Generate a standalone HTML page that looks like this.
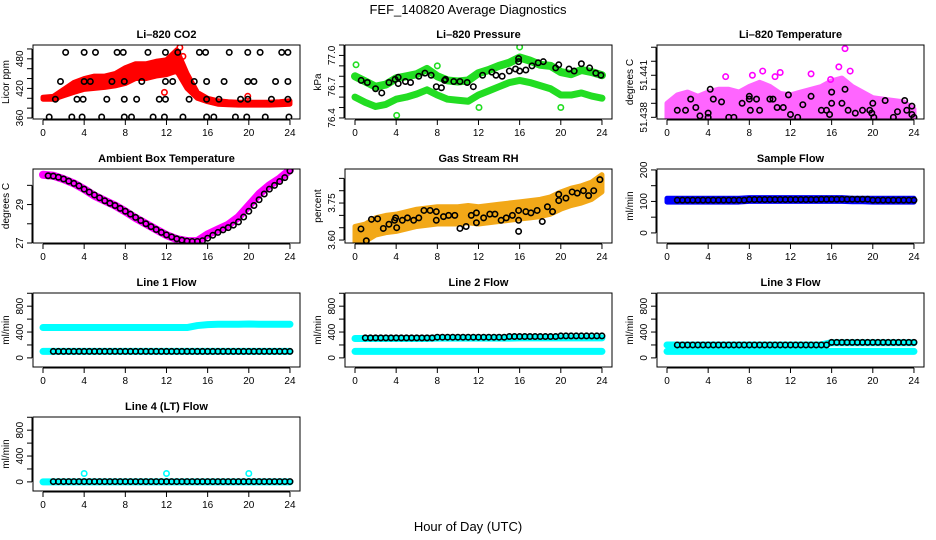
<!DOCTYPE html>
<html><head><meta charset="utf-8"><style>
html,body{margin:0;padding:0;background:#fff;}
svg{display:block;font-family:"Liberation Sans",sans-serif;}
</style></head><body>
<svg id="fig" width="936" height="540" viewBox="0 0 936 540">
<rect width="936" height="540" fill="#fff"/>
<text x="468" y="14" text-anchor="middle" font-size="13">FEF_140820  Average Diagnostics</text>
<text x="468" y="531" text-anchor="middle" font-size="13">Hour of Day (UTC)</text>
</svg>
<script>
const hours = [0,1,2,3,4,5,6,7,8,9,10,11,12,13,14,15,16,17,18,19,20,21,22,23,24];
const halfHours = [1,1.5,2,2.5,3,3.5,4,4.5,5,5.5,6,6.5,7,7.5,8,8.5,9,9.5,10,10.5,11,11.5,12,12.5,13,13.5,14,14.5,15,15.5,16,16.5,17,17.5,18,18.5,19,19.5,20,20.5,21,21.5,22,22.5,23,23.5,24];
const ambHalf = [0.5,1,1.5,2,2.5,3,3.5,4,4.5,5,5.5,6,6.5,7,7.5,8,8.5,9,9.5,10,10.5,11,11.5,12,12.5,13,13.5,14,14.5,15,15.5,16,16.5,17,17.5,18,18.5,19,19.5,20,20.5,21,21.5,22,22.5,23,23.5,24];
const xTicks = [0,4,8,12,16,20,24];

// CO2
const co2Lo = [398,398,405,412,418,420,422,425,430,440,440,445,448,455,420,400,393,388,387,386,386,386,386,387,388];
const co2Hi = [402,404,418,432,440,445,445,450,462,470,470,475,478,498,450,412,400,395,393,392,392,392,392,393,395];
const co2RedOut = [[13.3,503],[13.6,485],[11.8,412],[19.9,404],[1.3,400]];
const co2BlackH = [2.2,4.0,5.1,7.2,7.8,10.2,11.9,13.1,15.2,15.8,18.1,19.9,21.1,23.2,23.8, 1.7,4.0,4.6,6.7,7.9,9.6,11.9,12.6,14.7,15.9,17.6,19.9,20.5,22.6,23.8, 1.2,3.3,3.9,6.2,7.9,9.1,11.3,11.9,14.2,15.9,17.1,19.2,19.9,22.2,23.8, 0.6,2.8,3.8,5.7,7.9,8.6,10.7,11.8,13.6,15.9,16.6,18.7,19.8,21.6,23.9];
const co2BlackV = [493,493,493,493,493,493,493,493,493,493,493,493,493,493,493, 434,434,434,434,434,434,434,434,434,434,434,434,434,434,434, 398,398,398,398,398,398,398,398,398,398,398,398,398,398,398, 362,362,362,362,362,362,362,362,362,362,362,362,362,362,362];

// Pressure
const presUpper = [76.80,76.75,76.70,76.72,76.78,76.80,76.82,76.87,76.80,76.76,76.75,76.76,76.83,76.86,76.90,76.93,76.98,76.95,76.91,76.90,76.84,76.82,76.86,76.84,76.81];
const presLower = [76.60,76.55,76.51,76.53,76.58,76.60,76.63,76.67,76.62,76.58,76.57,76.56,76.62,76.66,76.70,76.74,76.76,76.74,76.71,76.68,76.62,76.62,76.64,76.61,76.59];
const presGreenOut = [[12.05,76.50],[16.0,77.08],[20.0,76.50],[4.05,76.425],[0.1,76.91],[8.0,76.90]];
const presBlackH = [0.6,1.2,2.0,2.6,3.3,3.9,4.2,4.2,4.9,5.4,6.2,6.8,7.4,7.9,8.4,8.7,8.8,9.6,10.2,10.9,11.5,12.4,13.3,13.7,14.3,15.0,15.6,16.0,16.6,17.2,17.8,18.3,19.5,19.8,20.8,21.3,22.0,22.8,23.4,23.9,15.9,15.9];
const presBlackV = [76.76,76.74,76.68,76.64,76.74,76.77,76.79,76.73,76.75,76.74,76.80,76.83,76.81,76.70,76.69,76.76,76.77,76.75,76.75,76.74,76.70,76.81,76.84,76.81,76.80,76.85,76.87,76.85,76.86,76.90,76.93,76.94,76.88,76.91,76.87,76.85,76.92,76.88,76.83,76.81,76.97,76.94];

// Li-820 temperature (tick units)
const tempHi = [1,1.6,1.8,1.5,1.8,2,2,1.8,2.2,2.5,2.2,1.7,1.6,1.8,2,2.2,2.6,2.8,2.2,1.8,1.4,1.3,1.2,1.1,0.6];
const tempLo = [-0.05,-0.05,-0.05,-0.05,-0.05,-0.05,-0.05,-0.05,-0.05,-0.05,-0.05,-0.05,-0.05,-0.05,-0.05,-0.05,-0.05,-0.05,-0.05,-0.05,-0.05,-0.05,-0.05,-0.05,-0.05];
const tempMagOut = [[17.3,4.9],[16.7,3.6],[17.8,3.3],[5.7,2.9],[8.3,3.0],[10.5,2.9],[14,3.1],[15.9,2.7],[9.3,3.3],[11,3.2]];
const tempBlackH = [1,1.8,2.3,2.8,3.2,4,4,4.2,4.5,5.3,6,6.5,7.3,8,8,8.1,8.7,9,10,10.3,10.7,11.3,11.8,12,12.7,13.2,14,15,15.5,15.8,16,16,17,17.3,17.6,18.3,19,19.7,20,19.9,20.1,21.2,22,22.4,23.1,23.3,23.8,23.8,24];
const tempBlackV = [0.5,0.5,1.3,0.7,0.1,0.3,0,2.0,1.3,1.1,0,0,1,1.3,1.5,0.5,1.3,0.5,1.3,1.3,0.7,0.7,1.6,0.2,0,0.9,1.5,0.5,0.5,0.2,1.8,1,1,2,0.5,0.3,0.5,0.5,1,0.3,0,1.2,0,0.4,1.2,0.5,0.8,0.2,0];

// Ambient
const ambient = [30.55,30.5,30.32,30.1,29.8,29.46,29.2,28.95,28.64,28.3,28.0,27.7,27.41,27.2,27.1,27.1,27.45,27.7,27.95,28.35,28.95,29.55,30.0,30.35,30.8];
const ambBlack = [30.5,30.48,30.42,30.33,30.22,30.1,29.97,29.8,29.65,29.5,29.35,29.2,29.07,28.95,28.8,28.65,28.5,28.33,28.17,28.0,27.85,27.7,27.55,27.42,27.32,27.22,27.15,27.1,27.08,27.08,27.12,27.25,27.4,27.55,27.68,27.8,27.93,28.1,28.35,28.65,28.95,29.25,29.55,29.8,30.0,30.2,30.4,30.75];

// RH
const rhLo = [3.585,3.595,3.62,3.63,3.635,3.645,3.655,3.66,3.665,3.665,3.665,3.67,3.665,3.67,3.675,3.68,3.685,3.69,3.695,3.705,3.725,3.74,3.75,3.765,3.795];
const rhHi = [3.655,3.665,3.69,3.70,3.705,3.715,3.725,3.73,3.735,3.735,3.735,3.74,3.735,3.74,3.745,3.75,3.755,3.76,3.765,3.775,3.795,3.81,3.82,3.835,3.865];
const rhBlackH = [0.58,1.1,1.6,2.2,2.75,3.3,3.85,3.95,4.05,4.6,5.1,5.7,6.2,6.7,7.3,7.9,7.9,8.6,9.1,9.7,10.2,10.8,11.3,11.8,11.8,12.5,13.1,13.6,14.2,14.7,15.3,15.9,15.9,15.9,16.6,17.1,17.7,18.2,18.7,19.2,19.8,19.8,20.5,21.1,21.6,22.2,22.7,23.2,23.8];
const rhBlackV = [3.645,3.597,3.684,3.686,3.647,3.664,3.68,3.69,3.65,3.68,3.69,3.68,3.69,3.72,3.72,3.715,3.68,3.695,3.70,3.70,3.647,3.655,3.70,3.71,3.67,3.69,3.705,3.705,3.68,3.69,3.70,3.72,3.68,3.635,3.715,3.71,3.72,3.675,3.735,3.715,3.785,3.76,3.77,3.795,3.79,3.80,3.78,3.80,3.845];

// Sample flow
const sampleLo = [98,98,98,98,98,98,98,98,100,100,100,100,100,100,100,100,100,100,99,99,98,98,98,98,98];
const sampleHi = [110,110,110,110,110,110,110,110,112,112,112,112,112,112,112,112,112,112,110,110,110,110,110,110,110];
const sampleBlack = [104,104,104,104,104,104,104,104,104,104,104,104,104,104,106,106,106,106,106,106,106,106,106,106,106,106,106,106,107,107,107,107,107,107,107,107,107,107,104,104,104,104,104,104,104,104,104];

// Line flows
const line1Upper = [470,470,470,470,470,470,470,470,470,470,470,470,470,470,470,500,515,520,520,520,525,520,520,520,520];
const line1Lower = [100,100,100,100,100,100,100,100,100,100,100,100,100,100,100,100,100,100,100,100,100,100,100,100,100];
const line1Black = [100,100,100,100,100,100,100,100,100,100,100,100,100,100,100,100,100,100,100,100,100,100,100,100,100,100,100,100,100,100,100,100,100,100,100,100,100,100,100,100,100,100,100,100,100,100,100];
const line2Upper = [300,300,300,300,300,300,300,300,305,305,305,305,305,305,305,305,310,310,310,310,310,310,310,310,310];
const line2Lower = [100,100,100,100,100,100,100,100,100,100,100,100,100,100,100,100,100,100,100,100,100,100,100,100,100];
const line2Black = [310,310,310,310,310,310,310,310,310,310,310,310,310,310,320,320,320,320,320,320,320,320,320,320,320,320,320,320,330,330,330,330,330,330,330,330,330,330,340,340,340,340,340,340,340,340,340];
const line3Upper = [200,200,200,200,200,200,200,200,200,200,200,200,200,200,200,200,235,235,235,235,235,235,235,235,235];
const line3Lower = [100,100,100,100,100,100,100,100,100,100,100,100,100,100,100,100,100,100,100,100,100,100,100,100,100];
const line3Black = [200,200,200,200,200,200,200,200,200,200,200,200,200,200,200,200,200,200,200,200,200,200,200,200,200,200,200,200,200,200,240,240,240,240,240,240,240,240,240,240,240,240,240,240,240,240,240];
const line4Cyan = [0,0,0,0,0,0,0,0,0,0,0,0,0,0,0,0,0,0,0,0,0,0,0,0,0];
const line4Spikes = [[4,130],[12,130],[20,130]];
const line4Black = [5,5,5,5,5,5,5,5,5,5,5,5,5,5,5,5,5,5,5,5,5,5,5,5,5,5,5,5,5,5,5,5,5,5,5,5,5,5,5,5,5,5,5,5,5,5,5];

const flowTicks = [0,200,400,600,800,1000];
const flowLabels = ["0","","400","","800",""];

const NS = "http://www.w3.org/2000/svg";
const svg = document.getElementById('fig');
function mk(tag, attrs, parent){const e=document.createElementNS(NS,tag);for(const k in attrs)e.setAttribute(k,attrs[k]);(parent||svg).appendChild(e);return e;}

function panel(col,row,title,ylab,lo,hi,ticks,labels,name){
  const L=33+col*312, R=L+267, T=45+row*124, B=T+74;
  const g=mk('g',{});
  
  
  const x=h=>L+10+h*10.29;
  const y=v=>B-(v-lo)/(hi-lo)*(B-T);
  const plot=mk('g',{},g);
  const clipId='c'+name;
  const cp=mk('clipPath',{id:clipId},g); mk('rect',{x:L,y:T,width:R-L,height:B-T},cp);
  plot.setAttribute('clip-path','url(#'+clipId+')');
  const box=mk('rect',{x:L,y:T,width:R-L,height:B-T,fill:'none',stroke:'#000','stroke-width':1},g);
  
  
  const t=mk('text',{x:(L+R)/2,y:T-7,'text-anchor':'middle','font-size':11,'font-weight':'bold'},g); t.textContent=title;
  
  
  const xa=mk('g',{},g);
  
  
  mk('line',{x1:x(0),x2:x(24),y1:B+1,y2:B+1,stroke:'#000'},xa);
  xTicks.forEach(v=>{mk('line',{x1:x(v),x2:x(v),y1:B+1,y2:B+6,stroke:'#000'},xa);
    const tl=mk('text',{x:x(v),y:B+17,'text-anchor':'middle','font-size':10},xa); tl.textContent=v;});
  const ya=mk('g',{},g);
  
  
  const tv=ticks.filter(v=>y(v)>=T-2&&y(v)<=B+2);
  mk('line',{x1:L-1,x2:L-1,y1:y(tv[0]),y2:y(tv[tv.length-1]),stroke:'#000'},ya);
  ticks.forEach((v,i)=>{const yy=y(v); if(yy<T-2||yy>B+2)return;
    mk('line',{x1:L-1,x2:L-6,y1:yy,y2:yy,stroke:'#000'},ya);
    if(labels[i]){const tl=mk('text',{x:L-10,y:yy,'text-anchor':'middle','font-size':10,transform:`rotate(-90 ${L-10} ${yy})`},ya);tl.textContent=labels[i];}});
  const yl=mk('text',{x:L-24,y:(T+B)/2,'text-anchor':'middle','font-size':10,transform:`rotate(-90 ${L-24} ${(T+B)/2})`},g); yl.textContent=ylab;
  
  
  return {x,y,plot};
}
function band(p,hs,los,his,color,name,op){
  const pts=hs.map((h,i)=>p.x(h)+','+p.y(his[i])).concat(hs.slice().reverse().map((h,j)=>{const i=hs.length-1-j;return p.x(h)+','+p.y(los[i]);}));
  const e=mk('polygon',{points:pts.join(' '),fill:color,stroke:color,'stroke-width':5,'stroke-linejoin':'round',opacity:op||1},p.plot);
  
  
}
function line(p,hs,vs,color,w,name){
  const e=mk('polyline',{points:hs.map((h,i)=>p.x(h)+','+p.y(vs[i])).join(' '),fill:'none',stroke:color,'stroke-width':w,'stroke-linejoin':'round','stroke-linecap':'round'},p.plot);
  
  
}
function pts(p,hs,vs,color,name){
  const g=mk('g',{},p.plot);
  
  
  hs.forEach((h,i)=>{const c=mk('circle',{cx:p.x(h),cy:p.y(vs[i]),r:2.7,fill:'none',stroke:color,'stroke-width':1.6},g);
    
    });
}
const oh=a=>a.map(d=>d[0]), ov=a=>a.map(d=>d[1]);

// Row 1
let p=panel(0,0,'Li\u2013820 CO2','Licor ppm',358,508,[360,380,400,420,440,460,480,500],['360','','','420','','','480',''],'co2');
band(p,hours,co2Lo,co2Hi,'#ff0000','co2-red-band');
pts(p,oh(co2RedOut),ov(co2RedOut),'#ff0000','co2-red-outliers');
pts(p,co2BlackH,co2BlackV,'#000','co2-hourly-points');

p=panel(1,0,'Li\u2013820 Pressure','kPa',76.39,77.1,[76.4,76.5,76.6,76.7,76.8,76.9,77.0,77.1],['76.4','','','76.7','','','77.0',''],'pressure');
line(p,hours,presUpper,'#22dd22',8,'pressure-upper-band');
line(p,hours,presLower,'#22dd22',7,'pressure-lower-band');
pts(p,oh(presGreenOut),ov(presGreenOut),'#22dd22','pressure-green-outliers');
pts(p,presBlackH,presBlackV,'#000','pressure-hourly-points');

p=panel(2,0,'Li\u2013820 Temperature','degrees C',-0.12,5.16,[0,1,2,3,4,5],['51.438','','','51.441','',''],'li-temp');
band(p,hours,tempLo,tempHi,'#ff00ff','li-temp-magenta-band',0.6);
pts(p,oh(tempMagOut),ov(tempMagOut),'#ff00ff','li-temp-magenta-outliers');
pts(p,tempBlackH,tempBlackV,'#000','li-temp-hourly-points');

// Row 2
p=panel(0,1,'Ambient Box Temperature','degrees C',27,30.85,[27,28,29,30],['27','','29',''],'ambient');
line(p,hours,ambient,'#ff00ff',8,'ambient-magenta-line');
pts(p,ambHalf,ambBlack,'#000','ambient-hourly-points');

p=panel(1,1,'Gas Stream RH','percent',3.588,3.888,[3.60,3.65,3.70,3.75,3.80,3.85],['3.60','','','3.75','',''],'rh');
band(p,hours,rhLo,rhHi,'#f2a818','rh-orange-band');
pts(p,rhBlackH,rhBlackV,'#000','rh-hourly-points');

p=panel(2,1,'Sample Flow','ml/min',-32,203,[0,50,100,150,200],['0','','100','','200'],'sample');
band(p,hours,sampleLo,sampleHi,'#0000ff','sample-blue-band');
pts(p,halfHours,sampleBlack,'#000','sample-hourly-points');

// Row 3
p=panel(0,2,'Line 1 Flow','ml/min',-141,1004,flowTicks,flowLabels,'line1');
line(p,hours,line1Upper,'#00ffff',7,'line1-cyan-upper');
line(p,hours,line1Lower,'#00ffff',7,'line1-cyan-lower');
pts(p,halfHours,line1Black,'#000','line1-hourly-points');

p=panel(1,2,'Line 2 Flow','ml/min',-141,1004,flowTicks,flowLabels,'line2');
line(p,hours,line2Upper,'#00ffff',7,'line2-cyan-upper');
line(p,hours,line2Lower,'#00ffff',7,'line2-cyan-lower');
pts(p,halfHours,line2Black,'#000','line2-hourly-points');

p=panel(2,2,'Line 3 Flow','ml/min',-141,1004,flowTicks,flowLabels,'line3');
line(p,hours,line3Upper,'#00ffff',7,'line3-cyan-upper');
line(p,hours,line3Lower,'#00ffff',7,'line3-cyan-lower');
pts(p,halfHours,line3Black,'#000','line3-hourly-points');

// Row 4
p=panel(0,3,'Line 4 (LT) Flow','ml/min',-141,1004,flowTicks,flowLabels,'line4');
line(p,hours,line4Cyan,'#00ffff',7,'line4-cyan-line');
pts(p,oh(line4Spikes),ov(line4Spikes),'#00ffff','line4-cyan-spikes');
pts(p,halfHours,line4Black,'#000','line4-hourly-points');
</script>
</body></html>
